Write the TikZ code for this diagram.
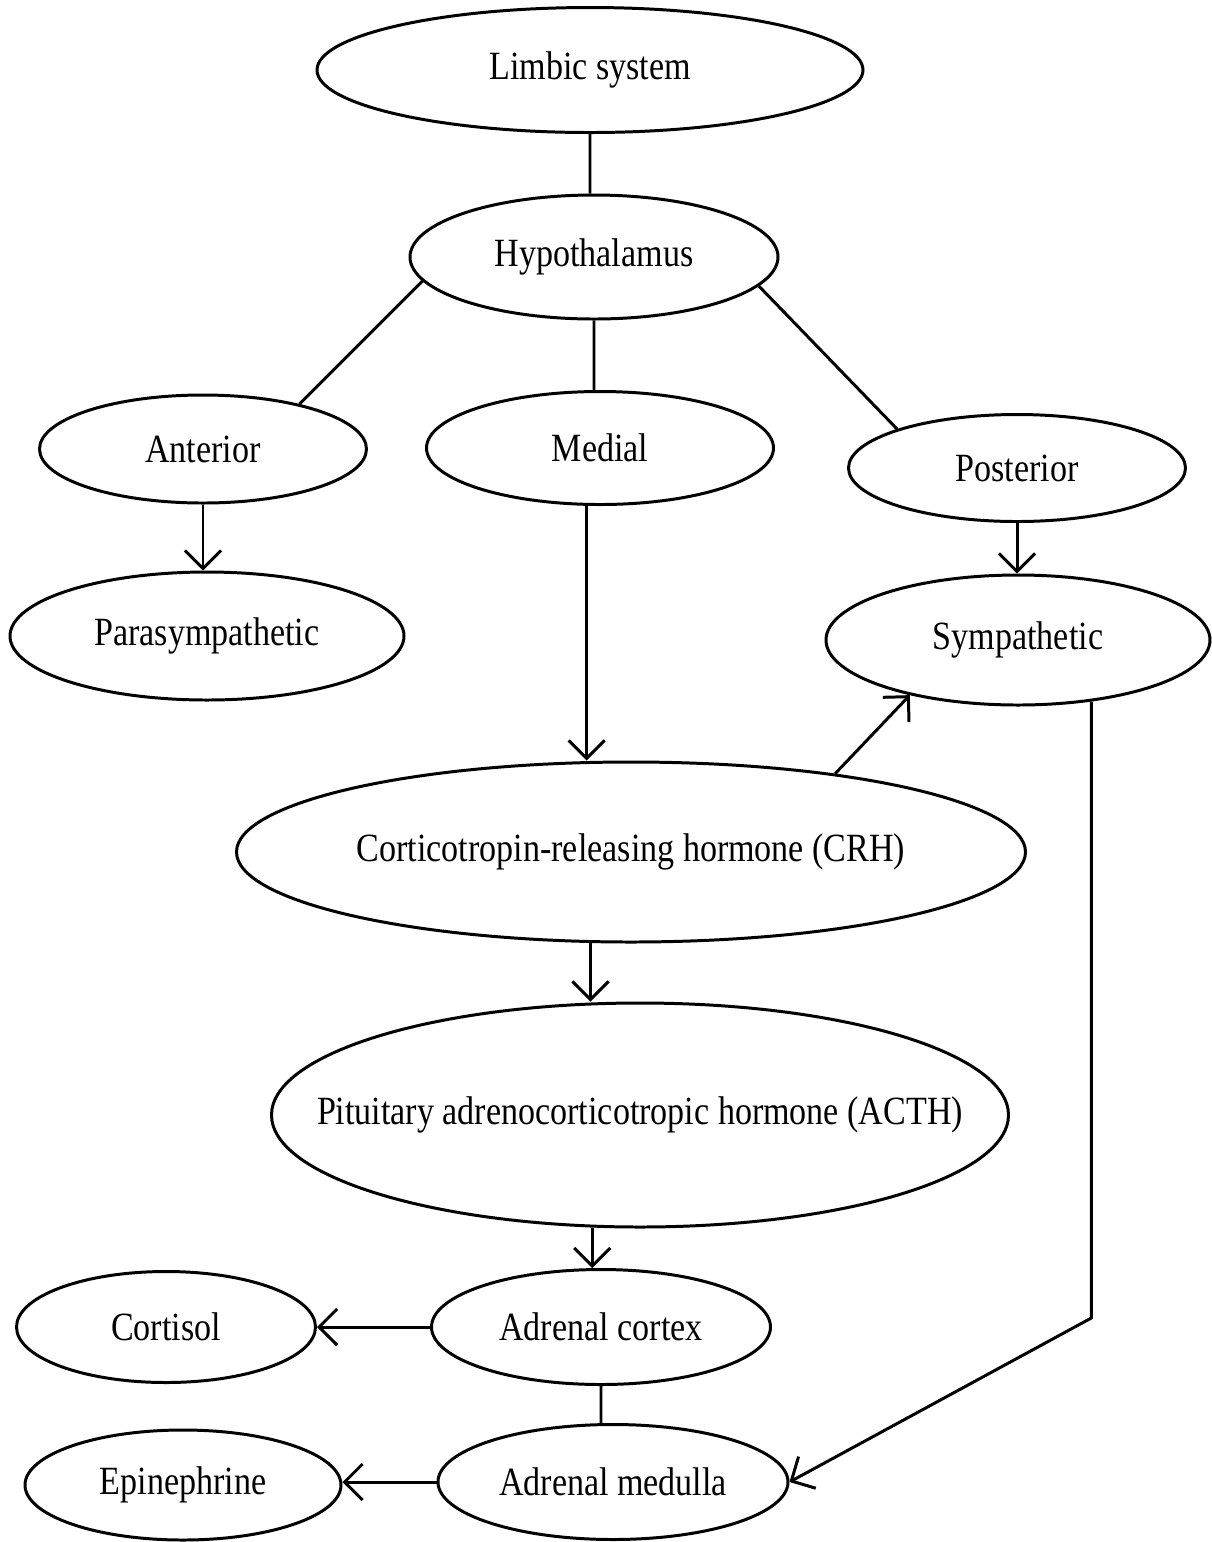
\documentclass[tikz,border=0pt]{standalone}
\usepackage{fontspec}
\setmainfont{Liberation Serif}[FakeStretch=0.85]
\usepackage{tikz}
\usetikzlibrary{shapes.geometric,arrows.meta}

\begin{document}
\begin{tikzpicture}[x=0.1mm,y=-0.1mm,line width=0.85pt,
                  blob/.style 2 args={draw,ellipse,inner xsep=-2cm,inner ysep=0pt,minimum width=#1,minimum height=#2,
                    font=\fontsize{11.4}{13}\selectfont},
                  link/.style={-{Straight Barb[length=1.8mm,width=3.6mm,line width=0.85pt]}}]
                  \useasboundingbox (0,0) rectangle (1212,1542);
                  \node[blob={54.6mm}{12.5mm}] (limbic) at (590,70) {Limbic system};
                  \node[blob={36.8mm}{12.4mm}] (hypo) at (594,257) {Hypothalamus};
                  \node[blob={32.7mm}{10.8mm}] (ant) at (203,449) {Anterior};
                  \node[blob={34.7mm}{11.3mm}] (med) at (600,448) {Medial};
                  \node[blob={33.7mm}{10.7mm}] (post) at (1017,468) {Posterior};
                  \node[blob={39.4mm}{12.8mm}] (para) at (207,636) {Parasympathetic};
                  \node[blob={38.4mm}{13.0mm}] (symp) at (1018,640) {Sympathetic};
                  \node[blob={78.9mm}{18.0mm}] (crh) at (631,852) {Corticotropin-releasing hormone (CRH)};
                  \node[blob={73.7mm}{22.4mm}] (acth) at (640,1115) {Pituitary adrenocorticotropic hormone (ACTH)};
                  \node[blob={29.9mm}{11.1mm}] (cortisol) at (166,1327) {Cortisol};
                  \node[blob={33.9mm}{11.5mm}] (cortex) at (601,1327) {Adrenal cortex};
                  \node[blob={31.6mm}{11.0mm}] (epi) at (183,1485) {Epinephrine};
                  \node[blob={35.0mm}{11.5mm}] (medulla) at (613,1482) {Adrenal medulla};
                  \coordinate (turn) at (1090,1318);
                  \draw (limbic.south) -- (limbic.south|-hypo.north)
                  (hypo.south) -- (hypo.south|-med.north)
                  (hypo.188) -- (ant.25) (hypo.350) -- (post.162)
                  (cortex.south) -- (cortex.south|-medulla.north);
                  \draw[link] (ant.south) -- (ant.south|-para.north);
                  \draw[link] (post.south) -- (post.south|-symp.north);
                  \draw[link] (med.257) -- (med.257|-crh.north);
                  \draw[link] (crh.21) -- (symp.207);
                  \draw[link] (crh.246) -- (crh.246|-acth.north);
                  \draw[link] (acth.247) -- (acth.247|-cortex.north);
                  \draw[link] (cortex.west) -- (cortisol.east);
                  \draw[link] (medulla.west) -- (medulla.west-|epi.east);
                  \draw[link] (symp.320) -- (symp.320|-turn) -- (medulla.east);
              \end{tikzpicture}
\end{document}
